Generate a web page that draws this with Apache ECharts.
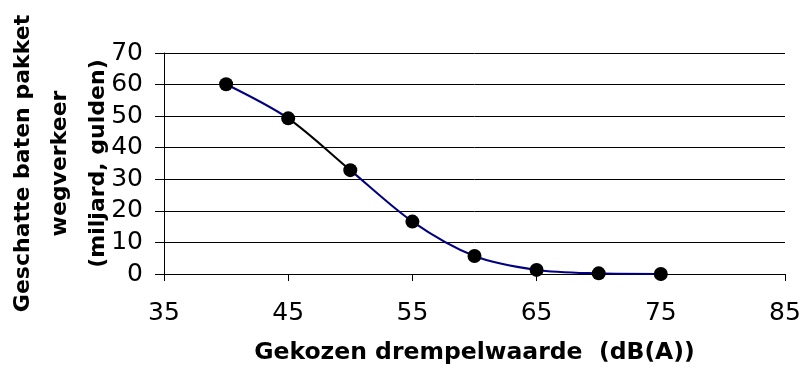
<!DOCTYPE html>
<html><head><meta charset="utf-8">
<script src="https://cdn.jsdelivr.net/npm/echarts@6/dist/echarts.min.js"></script>
<style>html,body{margin:0;padding:0;background:#fff}#c{width:801px;height:369px}</style>
</head><body><div id="c"></div>
<script>
const thresholds = [40, 45, 50, 55, 60, 65, 70, 75];
const benefits = [60.1, 49.3, 32.9, 16.6, 5.7, 1.3, 0.2, 0.0];
const yTicks = [0, 10, 20, 30, 40, 50, 60, 70];
const xTicks = [35, 45, 55, 65, 75, 85];
const xTitle = 'Gekozen drempelwaarde  (dB(A))';
const yTitle = ['Geschatte baten pakket', 'wegverkeer', '(miljard, gulden)'];

const pts = thresholds.map((x, i) => [x, benefits[i]]);
const chart = echarts.init(document.getElementById('c'), null, {renderer: 'canvas'});
const font = '"DejaVu Sans", sans-serif';
chart.setOption({
  animation: false,
  grid: {left: 164, right: 16, top: 53, bottom: 95, outerBoundsMode: 'none', containLabel: false},
  xAxis: {
    type: 'value', min: xTicks[0], max: xTicks[xTicks.length - 1], interval: 10,
    axisLine: {lineStyle: {color: '#000', width: 1}},
    axisTick: {show: true, length: 7, inside: false, lineStyle: {color: '#000'}},
    splitLine: {show: false},
    axisLabel: {color: '#000', fontSize: 25, fontFamily: font, margin: 27},
    name: xTitle, nameLocation: 'middle', nameGap: 67, nameMoveOverlap: false,
    nameTextStyle: {color: '#000', fontSize: 23.5, fontWeight: 'bold', fontFamily: font}
  },
  yAxis: {
    type: 'value', min: yTicks[0], max: yTicks[yTicks.length - 1], interval: 10,
    axisLine: {show: true, lineStyle: {color: '#000', width: 1}},
    axisTick: {show: true, length: 9, lineStyle: {color: '#000'}},
    splitLine: {show: true, lineStyle: {color: '#000', width: 1}},
    axisLabel: {color: '#000', fontSize: 25, fontFamily: font, margin: 21},
    name: yTitle.join('\n'), nameLocation: 'middle', nameGap: 47, nameRotate: 90, nameMoveOverlap: false,
    nameTextStyle: {color: '#000', fontSize: 22, fontWeight: 'bold', fontFamily: font, lineHeight: 37.5, align: 'center'}
  },
  visualMap: {
    show: false, type: 'piecewise', dimension: 0, seriesIndex: 0,
    pieces: [
      {lt: 45, color: '#000080'},
      {gte: 45, lte: 50, color: '#000000'},
      {gt: 50, color: '#000080'}
    ]
  },
  series: [
    {type: 'line', data: pts, smooth: 0.3, showSymbol: false, lineStyle: {width: 2}, silent: true},
    {type: 'scatter', data: pts, symbolSize: 14, itemStyle: {color: '#000', opacity: 1}, z: 5}
  ]
});
</script></body></html>
